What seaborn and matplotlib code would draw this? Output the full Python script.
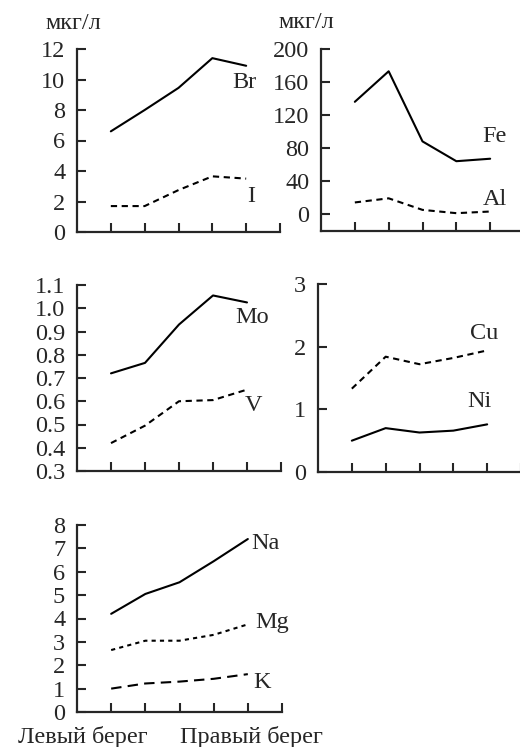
import numpy as np
import pandas as pd
import seaborn as sns
from matplotlib import pyplot as plt

# точки по створу, от левого берега к правому
points = [1, 2, 3, 4, 5]

br = [6.6, 8.0, 9.45, 11.4, 10.9]
iod = [1.7, 1.7, 2.75, 3.65, 3.5]
fe = [136, 173, 88, 64, 67]
al = [14, 19, 5, 1, 3]
mo = [0.72, 0.765, 0.93, 1.055, 1.025]
v = [0.42, 0.495, 0.6, 0.605, 0.65]
cu = [1.33, 1.84, 1.72, 1.82, 1.94]
ni = [0.50, 0.70, 0.63, 0.66, 0.76]
na = [4.2, 5.05, 5.55, 6.45, 7.4]
mg = [2.65, 3.05, 3.05, 3.3, 3.75]
k = [1.0, 1.22, 1.3, 1.42, 1.62]

sns.set_style('ticks')
plt.rcParams['font.family'] = ['Liberation Serif', 'DejaVu Serif']
plt.rcParams['axes.linewidth'] = 1.6

FS = 17.5

fig = plt.figure(figsize=(5.2, 7.47), dpi=100)

W, H = 520, 747
def add_ax(left, right, top, bottom):
    return fig.add_axes([left / W, (H - bottom) / H, (right - left) / W, (bottom - top) / H])

ax1 = add_ax(77, 280, 49, 232)
ax2 = add_ax(321, 524, 49, 230.5)
ax3 = add_ax(77, 281, 285, 471)
ax4 = add_ax(318, 521, 284, 472)
ax5 = add_ax(77, 282, 525, 712)

solid = '-'
dash = (0, (3, 2.2))
dot = (0, (2, 2))
longdash = (0, (5, 3))

panels = [
    (ax1, [(br, solid, 'Br', 4.95, 9.8), (iod, dash, 'I', 5.15, 2.3)], (0, 12), np.arange(0, 13, 2)),
    (ax2, [(fe, solid, 'Fe', 5.12, 94), (al, dash, 'Al', 5.13, 17)], (-20, 200), np.arange(0, 201, 40)),
    (ax3, [(mo, solid, 'Mo', 5.15, 0.96), (v, dash, 'V', 5.18, 0.58)], (0.3, 1.1), np.round(np.arange(0.3, 1.11, 0.1), 1)),
    (ax4, [(cu, dash, 'Cu', 4.91, 2.21), (ni, solid, 'Ni', 4.78, 1.12)], (0, 3), [0, 1, 2, 3]),
    (ax5, [(na, solid, 'Na', 5.53, 7.2), (mg, dot, 'Mg', 5.72, 3.85), (k, longdash, 'K', 5.42, 1.26)], (0, 8), range(0, 9)),
]

for ax, series, ylim, yticks in panels:
    for vals, ls, name, tx, ty in series:
        df = pd.DataFrame({'x': points, 'y': vals})
        sns.lineplot(data=df, x='x', y='y', ax=ax, color='black', linewidth=1.5, linestyle=ls)
        ax.text(tx, ty, name, fontsize=FS, ha='center', va='center')
    ax.set_xlim(0, 6)
    ax.set_ylim(*ylim)
    ax.set_xticks(range(1, 7))
    ax.set_xticklabels([])
    ax.set_yticks(yticks)
    if ax is ax3:
        ax.set_yticklabels([f'{t:.1f}' for t in yticks])
    ax.set_xlabel('')
    ax.set_ylabel('')
    ax.tick_params(direction='in', length=6.5, width=1.5, labelsize=FS, pad=8.5)
    sns.despine(ax=ax)

ax1.text(-0.017, 1.137, 'мкг/л', transform=ax1.transAxes, fontsize=FS, ha='center', va='center')
ax2.text(-0.07, 1.146, 'мкг/л', transform=ax2.transAxes, fontsize=FS, ha='center', va='center')

ax5.annotate('Левый берег', xy=(0.16, -0.166), xycoords=('data', 'axes fraction'),
             fontsize=FS, ha='center', va='baseline', annotation_clip=False)
ax5.annotate('Правый берег', xy=(5.12, -0.166), xycoords=('data', 'axes fraction'),
             fontsize=FS, ha='center', va='baseline', annotation_clip=False)

plt.savefig('out.png', dpi=100)
